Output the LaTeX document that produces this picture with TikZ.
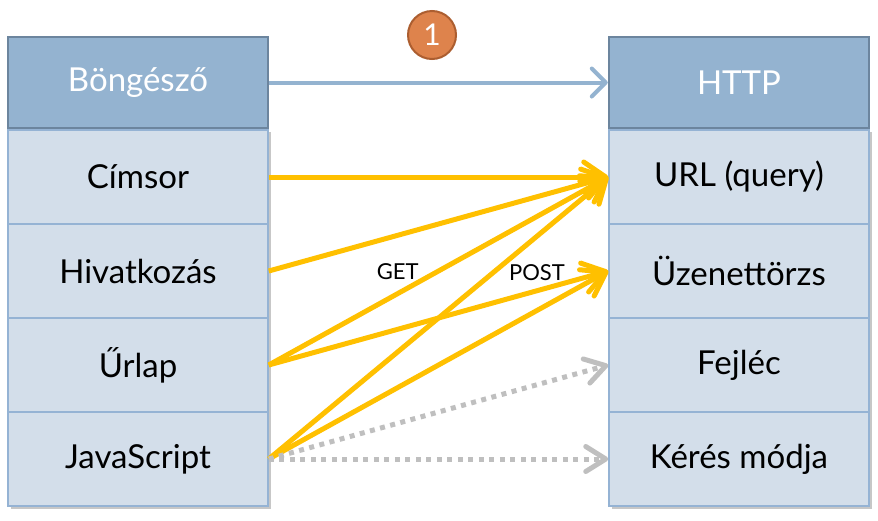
\documentclass[tikz,border=0pt]{standalone}
\usepackage{fontspec}
\setmainfont{Lato}
\usetikzlibrary{arrows.meta}
\definecolor{hdrfill}{RGB}{148,179,208}
\definecolor{hdrline}{RGB}{108,133,158}
\definecolor{rowfill}{RGB}{211,222,234}
\definecolor{rowline}{RGB}{149,179,212}
\definecolor{reqgold}{RGB}{255,192,0}
\definecolor{optgray}{RGB}{191,191,191}
\definecolor{stepfill}{RGB}{222,131,76}
\definecolor{stepline}{RGB}{172,94,48}
\tikzset{
  hdr/.style={draw=hdrline,line width=2.5pt,fill=hdrfill,text=white,
    minimum width=260pt,minimum height=91pt,inner sep=0pt,
    font=\fontsize{33}{36}\selectfont},
  cell/.style={draw=rowline,line width=1.5pt,fill=rowfill,
    minimum width=260pt,minimum height=94pt,inner sep=0pt,
    font=\fontsize{33}{36}\selectfont},
  req/.style={reqgold,line width=5pt,
    -{Straight Barb[length=22pt,width=30pt,round]}},
  opt/.style={optgray,line width=5pt,dash pattern=on 5pt off 5.5pt,
    -{Straight Barb[length=20pt,width=25pt,round]}},
  hdrlink/.style={hdrfill,line width=4pt,
    -{Straight Barb[length=14pt,width=28pt,round]}},
  tag/.style={text=black,font=\fontsize{22}{24}\selectfont,inner sep=1pt},
  stepdot/.style={circle,draw=stepline,line width=2pt,fill=stepfill,
    minimum size=48pt,inner sep=0pt,text=white,
    font=\fontsize{30}{32}\selectfont}}
% one column of boxes: shadow, header, four rows
\newcommand{\bcol}[4]{%
  \fill[black!22] ({#1-127},132) rectangle ({#1+133},509);
  \node[hdr] (#2h) at (#1,82.5) {#3};
  \foreach \t [count=\k] in {#4} {\node[cell] (#2\k) at (#1,{83+94*\k}) {\t};}}

\begin{document}
\begin{tikzpicture}[x=1pt,y=-1pt]
  \useasboundingbox (0,0) rectangle (878,520);
  \bcol{138}{b}{Böngésző}{Címsor,Hivatkozás,Űrlap,JavaScript}
  \bcol{739}{h}{HTTP}{URL (query),Üzenettörzs,Fejléc,Kérés módja}
  \node[stepdot] (step) at (432,35) {1};
  \draw[hdrlink] (bh.east) -- (hh.west);
  \draw[req] (b1.east) -- (h1.west);
  \draw[req] (b2.east) -- (h1.west);
  \draw[req] (b3.east) -- (h1.west) node[tag,pos=.38,yshift=22pt] (get) {GET};
  \draw[req] (b3.east) -- (h2.west) node[tag,pos=.79,yshift=18pt] (post) {POST};
  \draw[req] (b4.east) -- (h1.west);
  \draw[req] (b4.east) -- (h2.west);
  \draw[opt] (b4.east) -- (h3.west);
  \draw[opt] (b4.east) -- (h4.west);
\end{tikzpicture}
\end{document}
